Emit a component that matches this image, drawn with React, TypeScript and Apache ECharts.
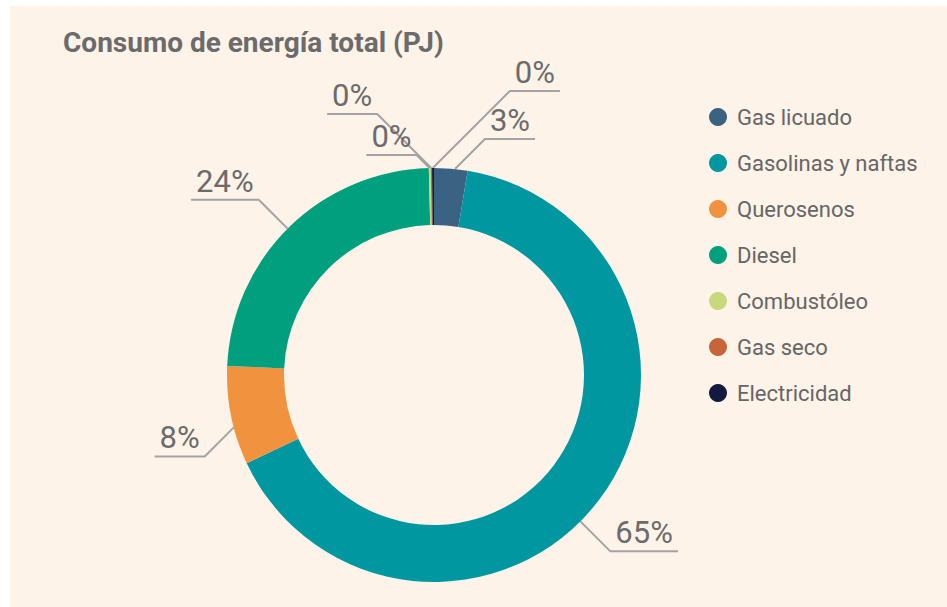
import React, { useEffect, useRef } from "react";
import * as echarts from "echarts";

const categories = [
  "Gas licuado",
  "Gasolinas y naftas",
  "Querosenos",
  "Diesel",
  "Combustóleo",
  "Gas seco",
  "Electricidad",
];
const shares = [2.6, 65.4, 7.7, 23.9, 0.15, 0.1, 0.15];
const colors = ["#3a6283", "#0097a1", "#f0923e", "#00a07f", "#c6d97c", "#c8643a", "#14193f"];

const titleText = "Consumo de energía total (PJ)";

// layout / style constants (chart coordinates)
const CX = 424;
const CY = 369;
const R_OUT = 207;
const R_IN = 150;
const START_ANGLE = 90;
// leader line style per slice: horizontal side, vertical side, diagonal length
const leaders = [
  { sx: 1, sy: -1, d: 30 },
  { sx: 1, sy: 1, d: 30 },
  { sx: -1, sy: 1, d: 29 },
  { sx: -1, sy: -1, d: 29 },
  { sx: -1, sy: -1, d: 13 },
  { sx: -1, sy: -1, d: 54 },
  { sx: 1, sy: -1, d: 77 },
];

const FONT = "Roboto, 'DejaVu Sans', sans-serif";

export default function App() {
  const ref = useRef<HTMLDivElement>(null);

  useEffect(() => {
    if (!ref.current) return;
    const chart = echarts.init(ref.current, undefined, { renderer: "svg" });

    const total = shares.reduce((a, b) => a + b, 0);
    const spans: [number, number][] = [];
    let acc = 0;
    shares.forEach((v) => {
      const a0 = (acc / total) * 360;
      acc += v;
      const a1 = (acc / total) * 360;
      spans.push([a0, a1]);
    });

    const labelLayout = (params: any) => {
      const i = params.dataIndex;
      const L = leaders[i];
      const [a0, a1] = spans[i];
      const span = a1 - a0;
      const diag = L.sx > 0 ? (L.sy < 0 ? 45 : 135) : L.sy > 0 ? 225 : 315;
      const lo = a0 + 0.38 * span;
      const hi = a1 - 0.38 * span;
      const th = (Math.min(Math.max(diag, lo), hi) * Math.PI) / 180;
      const x0 = CX + R_OUT * Math.sin(th);
      const y0 = CY - R_OUT * Math.cos(th);
      const x1 = x0 + L.sx * L.d;
      const y1 = y0 + L.sy * L.d;
      const w = params.labelRect.width + 10;
      const x2 = x1 + L.sx * w;
      return {
        x: x1 + (L.sx * w) / 2,
        y: y1 - 3,
        align: "center",
        verticalAlign: "bottom",
        labelLinePoints: [
          [x0, y0],
          [x1, y1],
          [x2, y1],
        ],
      };
    };

    chart.setOption({
      animation: false,
      backgroundColor: "#fdf3e9",
      color: colors,
      title: {
        text: titleText,
        left: 48,
        top: 17,
        textStyle: {
          fontFamily: FONT,
          fontWeight: "bold",
          fontSize: 28,
          color: "#6b6b6b",
        },
      },
      legend: {
        orient: "vertical",
        left: 694,
        top: 94,
        icon: "circle",
        itemWidth: 28,
        itemHeight: 18,
        itemGap: 22,
        data: categories,
        textStyle: {
          fontFamily: FONT,
          fontSize: 22,
          lineHeight: 24,
          color: "#666666",
        },
      },
      series: [
        {
          type: "pie",
          center: [CX, CY],
          radius: [R_IN, R_OUT],
          startAngle: START_ANGLE,
          clockwise: true,
          percentPrecision: 0,
          avoidLabelOverlap: false,
          label: {
            show: true,
            position: "outside",
            formatter: "{d}%",
            fontFamily: FONT,
            fontSize: 31,
            color: "#6b6b6b",
          },
          labelLine: {
            show: true,
            length: 20,
            length2: 40,
            smooth: false,
            lineStyle: { color: "#a3a3a3", width: 2 },
          },
          labelLayout,
          emphasis: { disabled: true },
          data: categories.map((name, i) => ({ name, value: shares[i] })),
        },
      ],
    });

    return () => chart.dispose();
  }, []);

  return (
    <div
      ref={ref}
      style={{ position: "fixed", left: 10, top: 6, width: 937, height: 601 }}
    />
  );
}
